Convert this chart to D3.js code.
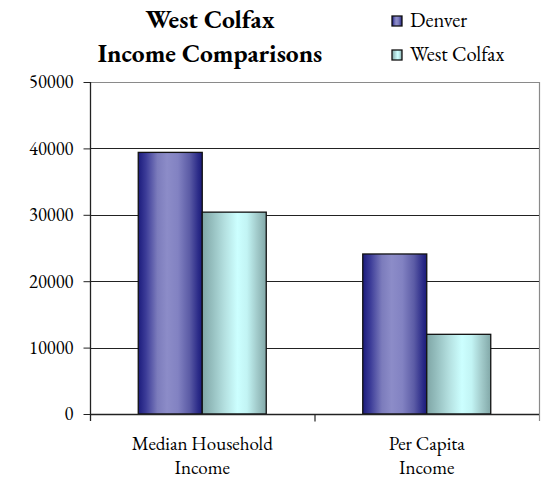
<!DOCTYPE html>
<html>
<head>
<meta charset="utf-8">
<script src="https://cdn.jsdelivr.net/npm/d3@7"></script>
<style>
  html, body { margin: 0; padding: 0; background: #fff; }
  svg { display: block; }
  text { font-family: Garamond, "EB Garamond", "Liberation Serif", "Times New Roman", serif; fill: #000; }
</style>
</head>
<body>
<svg id="chart" width="546" height="479"></svg>
<script>
// Income figures (US dollars)
const categories = [["Median Household", "Income"], ["Per Capita", "Income"]];
const seriesNames = ["Denver", "West Colfax"];
const denverValues = [39400, 24100];
const westColfaxValues = [30400, 12000];
const yTicks = [0, 10000, 20000, 30000, 40000, 50000];

const svg = d3.select("#chart");
const plot = { left: 90, right: 539, top: 82, bottom: 414 };

// Gradient fills giving each bar its cylindrical look
const defs = svg.append("defs");
const gradients = {
  "Denver": [
    [0, "#1c1c7c"], [0.12, "#3c3c98"], [0.3, "#7c7cbc"], [0.45, "#8c8cc8"],
    [0.62, "#8282c2"], [0.8, "#5c5ca6"], [0.93, "#2e2e8a"], [1, "#1a1a78"]
  ],
  "West Colfax": [
    [0, "#7fa6a6"], [0.15, "#95bebe"], [0.35, "#b4e0e0"], [0.55, "#ccffff"],
    [0.7, "#c2f4f4"], [0.85, "#a3cccc"], [1, "#82a8a8"]
  ]
};
seriesNames.forEach((name, i) => {
  const g = defs.append("linearGradient")
    .attr("id", "grad" + i)
    .attr("x1", "0%").attr("x2", "100%").attr("y1", "0%").attr("y2", "0%");
  gradients[name].forEach(([o, c]) => g.append("stop").attr("offset", o).attr("stop-color", c));
});

const catKeys = categories.map(c => c.join(" "));
const x0 = d3.scaleBand().domain(catKeys).range([plot.left, plot.right]).padding(0);
const x1 = d3.scaleBand().domain(seriesNames).range([0, x0.bandwidth()])
  .paddingInner(0).paddingOuter(0.754);
const y = d3.scaleLinear().domain([0, 50000]).range([plot.bottom, plot.top]);

// Plot-area frame (top and right) in grey
svg.append("path")
  .attr("d", `M${plot.left},${plot.top + 0.5}H${plot.right + 0.5}V${plot.bottom + 7}`)
  .attr("fill", "none").attr("stroke", "#8a8a8a").attr("stroke-width", 1.2);

// Horizontal gridlines
svg.append("g").selectAll("line")
  .data(yTicks.filter(t => t > 0 && t < 50000))
  .join("line")
  .attr("x1", plot.left).attr("x2", plot.right)
  .attr("y1", d => Math.round(y(d)) + 0.5).attr("y2", d => Math.round(y(d)) + 0.5)
  .attr("stroke", "#222").attr("stroke-width", 1);

// Bars
const seriesValues = [denverValues, westColfaxValues];
const groups = svg.append("g").selectAll("g")
  .data(catKeys)
  .join("g")
  .attr("transform", d => `translate(${x0(d)},0)`);
groups.selectAll("rect")
  .data((d, ci) => seriesNames.map((s, si) => ({ s, si, v: seriesValues[si][ci] })))
  .join("rect")
  .attr("x", d => x1(d.s))
  .attr("width", x1.bandwidth())
  .attr("y", d => y(d.v))
  .attr("height", d => y(0) - y(d.v))
  .attr("fill", d => `url(#grad${d.si})`)
  .attr("stroke", "#111").attr("stroke-width", 1.3);

// Y axis
const yAxis = d3.axisLeft(y).tickValues(yTicks).tickFormat(d3.format("d"))
  .tickSize(7).tickPadding(10);
const ya = svg.append("g").attr("transform", `translate(${plot.left + 0.5},0)`).call(yAxis);
ya.select(".domain").attr("d", `M-0,${plot.top}V${plot.bottom + 7}`).attr("stroke", "#222").attr("stroke-width", 1.3);
ya.selectAll(".tick line").attr("stroke", "#222");
ya.selectAll(".tick text")
  .style("font-family", "Garamond, 'EB Garamond', 'Liberation Serif', serif")
  .style("font-size", "18.5px").attr("fill", "#222");

// X axis with tick marks at category boundaries
const xa = svg.append("g").attr("transform", `translate(0,${plot.bottom + 0.5})`);
xa.append("line").attr("x1", plot.left).attr("x2", plot.right)
  .attr("stroke", "#222").attr("stroke-width", 1.3);
xa.selectAll("line.sep")
  .data(catKeys.slice(1))
  .join("line").attr("class", "sep")
  .attr("x1", d => x0(d) + 0.5).attr("x2", d => x0(d) + 0.5)
  .attr("y1", 0).attr("y2", 7)
  .attr("stroke", "#222").attr("stroke-width", 1.2);

// Category labels (two lines each)
const catLabels = svg.append("g").selectAll("text")
  .data(categories)
  .join("text")
  .attr("text-anchor", "middle")
  .style("font-size", "19px")
  .attr("fill", "#222");
catLabels.each(function (lines, i) {
  const cx = x0(catKeys[i]) + x0.bandwidth() / 2;
  d3.select(this).selectAll("tspan")
    .data(lines)
    .join("tspan")
    .attr("x", cx)
    .attr("y", (d, j) => 450 + j * 24)
    .text(d => d);
});

// Title
const title = svg.append("text")
  .attr("text-anchor", "middle")
  .style("font-size", "25.5px")
  .style("font-weight", "bold");
title.append("tspan").attr("x", 210).attr("y", 28).text("West Colfax");
title.append("tspan").attr("x", 210).attr("y", 62).text("Income Comparisons");

// Legend
const legend = svg.append("g").selectAll("g")
  .data(seriesNames)
  .join("g")
  .attr("transform", (d, i) => `translate(392,${16 + i * 34})`);
legend.append("rect")
  .attr("width", 10).attr("height", 10)
  .attr("fill", (d, i) => `url(#grad${i})`)
  .attr("stroke", "#111").attr("stroke-width", 1.3);
legend.append("text")
  .attr("x", 18).attr("y", 11)
  .style("font-size", "20.5px")
  .attr("fill", "#222")
  .text(d => d);
</script>
</body>
</html>
